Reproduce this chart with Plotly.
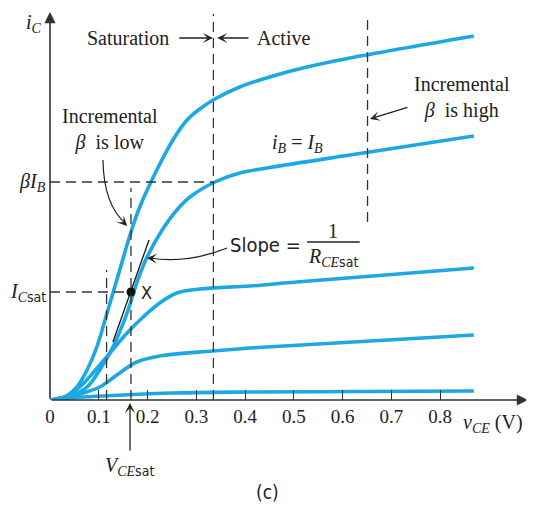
import plotly.graph_objects as go

# ---------------- data ----------------
vce_1 = [0, 0.03, 0.055, 0.076, 0.096, 0.117, 0.137, 0.166, 0.184, 0.219, 0.252, 0.281, 0.307, 0.338, 0.389, 0.457, 0.527, 0.615, 0.869]
ic_1 = [0, 0.03, 0.13, 0.30, 0.53, 0.87, 1.20, 1.68, 1.93, 2.30, 2.60, 2.80, 2.91, 3.01, 3.13, 3.24, 3.33, 3.42, 3.64]

vce_2 = [0, 0.04, 0.076, 0.102, 0.129, 0.158, 0.180, 0.199, 0.230, 0.260, 0.287, 0.338, 0.389, 0.457, 0.615, 0.869]
ic_2 = [0, 0.04, 0.13, 0.30, 0.53, 0.87, 1.20, 1.43, 1.70, 1.90, 2.03, 2.18, 2.27, 2.33, 2.45, 2.64]

vce_3 = [0, 0.035, 0.061, 0.088, 0.123, 0.158, 0.191, 0.225, 0.260, 0.307, 0.410, 0.506, 0.869]
ic_3 = [0, 0.04, 0.13, 0.27, 0.47, 0.67, 0.83, 0.97, 1.07, 1.11, 1.14, 1.18, 1.32]

vce_4 = [0, 0.04, 0.068, 0.102, 0.137, 0.178, 0.225, 0.334, 0.410, 0.869]
ic_4 = [0, 0.03, 0.07, 0.13, 0.25, 0.38, 0.44, 0.49, 0.52, 0.65]

vce_5 = [0, 0.068, 0.15, 0.25, 0.41, 0.869]
ic_5 = [0, 0.03, 0.05, 0.07, 0.08, 0.09]

tangent_x = [0.129, 0.203]
tangent_y = [0.58, 1.60]

vce_sat = 0.166
ic_sat = 1.08
beta_ib = 2.18
v_edge = 0.335
v_high = 0.651
v_low = 0.116

tick_vals = [0, 0.1, 0.2, 0.3, 0.4, 0.5, 0.6, 0.7, 0.8]
tick_text = ["0", "0.1", "0.2", "0.3", "0.4", "0.5", "0.6", "0.7", "0.8"]

# ---------------- style ----------------
BLUE = "#1CA8E2"
DARK = "#222222"
SERIF = "Liberation Serif, Times New Roman, serif"
SANS = "DejaVu Sans Condensed, Liberation Sans Narrow, DejaVu Sans, sans-serif"
SAT = "<span style='font-family:DejaVu Sans Condensed, DejaVu Sans, sans-serif'>sat</span>"
X_MAX, Y_MAX = 0.98, 3.88

fig = go.Figure()
for xs, ys in [(vce_1, ic_1), (vce_2, ic_2), (vce_3, ic_3), (vce_4, ic_4), (vce_5, ic_5)]:
    fig.add_trace(go.Scatter(x=xs, y=ys, mode="lines",
                             line=dict(color=BLUE, width=3.6, shape="spline", smoothing=1.0),
                             hoverinfo="skip", showlegend=False))

# tangent line and point X
fig.add_trace(go.Scatter(x=tangent_x, y=tangent_y, mode="lines",
                         line=dict(color=DARK, width=1.4), hoverinfo="skip", showlegend=False))
fig.add_trace(go.Scatter(x=[vce_sat], y=[ic_sat], mode="markers",
                         marker=dict(color="#111111", size=9), hoverinfo="skip", showlegend=False))

dash = dict(color="#333333", width=1.3, dash="10px,6px")
shapes = [
    dict(type="line", x0=v_edge, x1=v_edge, y0=0, y1=Y_MAX - 0.02, line=dash),
    dict(type="line", x0=v_high, x1=v_high, y0=1.78, y1=3.82, line=dash),
    dict(type="line", x0=vce_sat, x1=vce_sat, y0=0, y1=2.12, line=dash),
    dict(type="line", x0=v_low, x1=v_low, y0=0, y1=1.30, line=dash),
    dict(type="line", x0=0, x1=v_edge, y0=beta_ib, y1=beta_ib, line=dash),
    dict(type="line", x0=0, x1=vce_sat, y0=ic_sat, y1=ic_sat, line=dash),
    # fraction bar
    dict(type="line", x0=0.527, x1=0.635, y0=1.58, y1=1.58, line=dict(color=DARK, width=1.3)),
    # curved arrow shafts
    dict(type="path", path="M 0.1086 2.40 Q 0.110 1.95 0.156 1.76",
         line=dict(color=DARK, width=1.2)),
    dict(type="path", path="M 0.363 1.52 Q 0.281 1.36 0.205 1.42",
         line=dict(color=DARK, width=1.2)),
]

ann = []
def arrow(x, y, ax, ay, head=3, size=1.3, width=1.3, color=DARK):
    ann.append(dict(x=x, y=y, ax=ax, ay=ay, xref="x", yref="y", axref="x", ayref="y",
                    text="", showarrow=True, arrowhead=head, arrowsize=size,
                    arrowwidth=width, arrowcolor=color, standoff=0))

def text(x, y, t, size=20, family=SERIF, xanchor="center", yanchor="middle"):
    # positions given in data units, placed via paper coords so off-range text still shows
    ann.append(dict(x=x / X_MAX, y=y / Y_MAX, xref="paper", yref="paper", text=t, showarrow=False,
                    font=dict(family=family, size=size, color="#222222"),
                    xanchor=xanchor, yanchor=yanchor, align="center"))

# axes with arrowheads
arrow(X_MAX, 0, 0, 0, head=2, size=1.4, width=1.6, color="#333333")
arrow(0, Y_MAX, 0, 0, head=2, size=1.4, width=1.6, color="#333333")

# saturation / active arrows
arrow(0.334, 3.62, 0.262, 3.62)
arrow(0.343, 3.62, 0.410, 3.62)
# beta low arrowhead
arrow(0.158, 1.74, 0.148, 1.79)
# slope arrowhead
arrow(0.199, 1.42, 0.215, 1.415)
# beta high arrow
arrow(0.656, 2.81, 0.736, 2.93)
# VCEsat arrow (below the axis, pixel offset)
ann.append(dict(x=(vce_sat - 0.002) / X_MAX, y=-0.03 / Y_MAX, xref="paper", yref="paper",
                axref="pixel", ayref="pixel", ax=0, ay=49, text="", showarrow=True,
                arrowhead=3, arrowsize=1.3, arrowwidth=1.3, arrowcolor=DARK, standoff=0))

text(0.160, 3.62, "Saturation")
text(0.478, 3.62, "Active")
text(0.123, 2.70, "Incremental<br><i>β</i>  is low")
text(0.844, 3.03, "Incremental<br><i>β</i>  is high")
text(0.508, 2.57, "<i>i</i><sub><i>B</i></sub> = <i>I</i><sub><i>B</i></sub>")
text(0.365, 1.55, "Slope =", size=20, family=SANS, xanchor="left")
text(0.580, 1.69, "1", size=20, family=SERIF)
text(0.580, 1.43, "<i>R</i><sub><i>CE</i>" + SAT + "</sub>", size=20)
text(0.183, 1.08, "X", size=18, family=SANS, xanchor="left")
text(-0.012, 3.77, "<i>i</i><sub><i>C</i></sub>", xanchor="right")
text(-0.004, beta_ib, "<i>βI</i><sub><i>B</i></sub>", xanchor="right")
text(-0.004, ic_sat, "<i>I</i><sub><i>C</i>" + SAT + "</sub>", xanchor="right")
text(0.164, -0.66, "<i>V</i><sub><i>CE</i>" + SAT + "</sub>")
text(0.445, -0.92, "(c)", size=19, family=SANS)
text(0.842, -0.23, "<i>v</i><sub><i>CE</i></sub> (V)", xanchor="left")

# page body has an 8px margin: shrink figure and margins so the plot lands where the reference has it
fig.update_layout(
    width=526, height=498,
    margin=dict(l=42, r=6, t=4, b=106),
    paper_bgcolor="white", plot_bgcolor="white",
    shapes=shapes, annotations=ann,
    xaxis=dict(range=[0, X_MAX], showgrid=False, zeroline=False, showline=False,
               tickvals=tick_vals, ticktext=tick_text, ticks="inside", ticklen=10,
               tickwidth=1.3, tickcolor="#333333", ticklabelstandoff=3,
               tickfont=dict(family=SERIF, size=19, color="#222222")),
    yaxis=dict(range=[0, Y_MAX], showgrid=False, zeroline=False, showline=False,
               showticklabels=False, ticks=""),
)

fig.write_html("out.html")
